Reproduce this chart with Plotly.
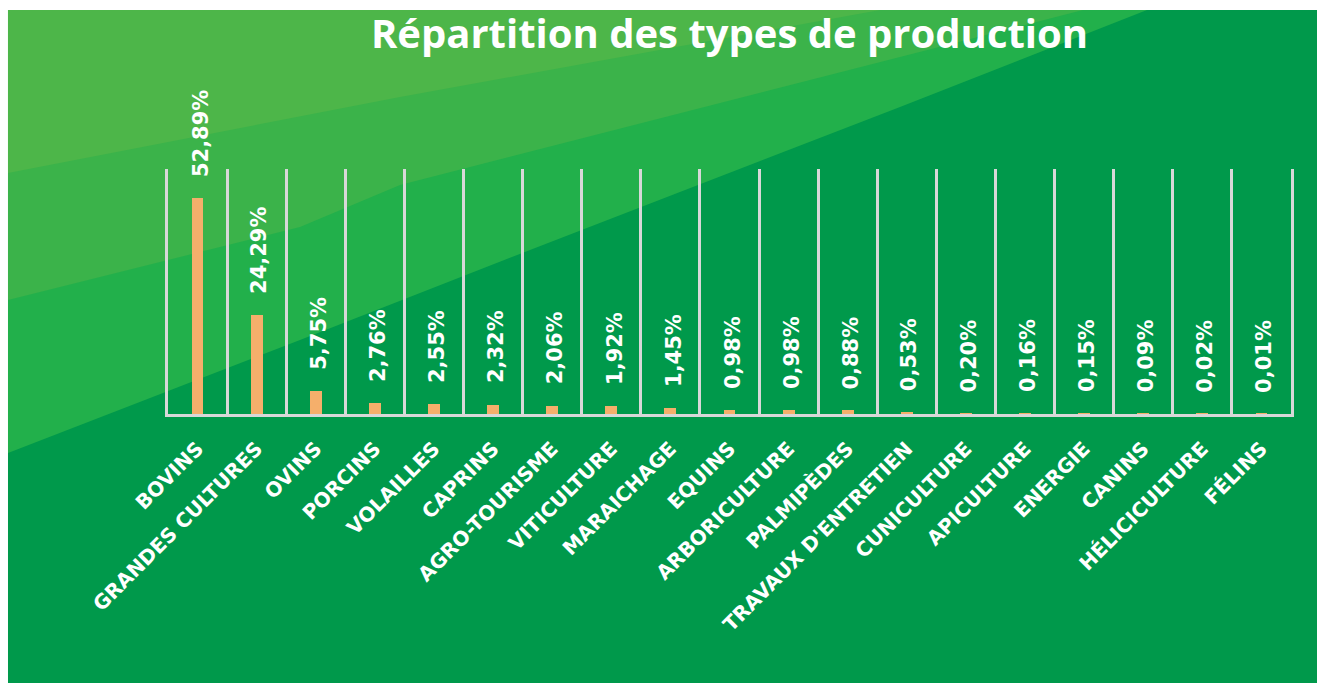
import plotly.graph_objects as go

categories = ["BOVINS", "GRANDES CULTURES", "OVINS", "PORCINS", "VOLAILLES", "CAPRINS",
              "AGRO-TOURISME", "VITICULTURE", "MARAICHAGE", "EQUINS", "ARBORICULTURE",
              "PALMIPÈDES", "TRAVAUX D'ENTRETIEN", "CUNICULTURE", "APICULTURE", "ENERGIE",
              "CANINS", "HÉLICICULTURE", "FÉLINS"]
values = [52.89, 24.29, 5.75, 2.76, 2.55, 2.32, 2.06, 1.92, 1.45, 0.98, 0.98,
          0.88, 0.53, 0.20, 0.16, 0.15, 0.09, 0.02, 0.01]
value_labels = ["52,89%", "24,29%", "5,75%", "2,76%", "2,55%", "2,32%", "2,06%", "1,92%",
                "1,45%", "0,98%", "0,98%", "0,88%", "0,53%", "0,20%", "0,16%", "0,15%",
                "0,09%", "0,02%", "0,01%"]
title_text = "Répartition des types de production"

# ---- layout geometry (pixels) ----
FIG_W, FIG_H = 1317, 683
M_L, M_R, M_T, M_B = 168, 26, 169, 269
PW = FIG_W - M_L - M_R
PH = FIG_H - M_T - M_B


def px(x):
    return (x - M_L) / PW


def py(y):
    return (FIG_H - M_B - y) / PH


def poly(points):
    return "M " + " L ".join(f"{px(x):.5f},{py(y):.5f}" for x, y in points) + " Z"


GREEN_D = "#00994B"
GREEN_C = "#22B04B"
GREEN_B = "#3BB34A"
GREEN_A = "#4DB649"
LINE_C = "#D8D8D8"
BAR_C = "#F5AF6B"
FONT_LBL = "DejaVu Sans"

shapes = [
    dict(type="path", xref="paper", yref="paper", layer="below", line_width=0,
         fillcolor=GREEN_D, path=poly([(8, 10), (FIG_W + 5, 10), (FIG_W + 5, FIG_H + 5), (8, FIG_H + 5)])),
    dict(type="path", xref="paper", yref="paper", layer="below", line_width=0,
         fillcolor=GREEN_C, path=poly([(8, 10), (1147, 10), (900, 107), (530, 250), (300, 340), (8, 453)])),
    dict(type="path", xref="paper", yref="paper", layer="below", line_width=0,
         fillcolor=GREEN_B, path=poly([(8, 10), (1083, 10), (900, 57), (400, 185), (300, 227), (8, 300)])),
    dict(type="path", xref="paper", yref="paper", layer="below", line_width=0,
         fillcolor=GREEN_A, path=poly([(8, 10), (880, 10), (400, 97), (8, 173)])),
]

fig = go.Figure()
fig.add_trace(go.Bar(x=categories, y=values, width=0.2, marker=dict(color=BAR_C, line_width=0),
                     hoverinfo="skip"))

annotations = []
for c, v, t in zip(categories, values, value_labels):
    annotations.append(dict(x=c, y=v, xref="x", yref="y", text=t, showarrow=False,
                            textangle=-90, xanchor="center", yanchor="bottom", yshift=19, xshift=3,
                            font=dict(family=FONT_LBL, size=21, color="white", weight="bold")))

fig.update_layout(
    width=FIG_W, height=FIG_H, autosize=False,
    margin=dict(l=M_L, r=M_R, t=M_T, b=M_B, pad=0),
    paper_bgcolor="white", plot_bgcolor="rgba(0,0,0,0)",
    showlegend=False, shapes=shapes, annotations=annotations, bargap=0,
    title=dict(text=title_text, x=0.5, xref="paper", xanchor="center",
               y=1 - 34 / FIG_H, yref="container", yanchor="middle",
               font=dict(family="Open Sans", size=40, color="white", weight="bold")),
    xaxis=dict(type="category", categoryorder="array", categoryarray=categories,
               range=[-0.5, len(categories) - 0.5], tickson="boundaries",
               showgrid=True, gridcolor=LINE_C, gridwidth=2.5,
               showline=True, linecolor=LINE_C, linewidth=3, zeroline=False,
               ticks="", tickangle=-45, ticklabelstandoff=12,
               tickfont=dict(family=FONT_LBL, size=20, color="white", weight="bold")),
    yaxis=dict(range=[0, 60], showticklabels=False, showgrid=False, zeroline=False,
               showline=True, mirror=True, linecolor=LINE_C, linewidth=2.5, ticks=""),
)

fig.write_html("out.html", config={"displayModeBar": False},
               post_script="document.body.style.margin='0';")
